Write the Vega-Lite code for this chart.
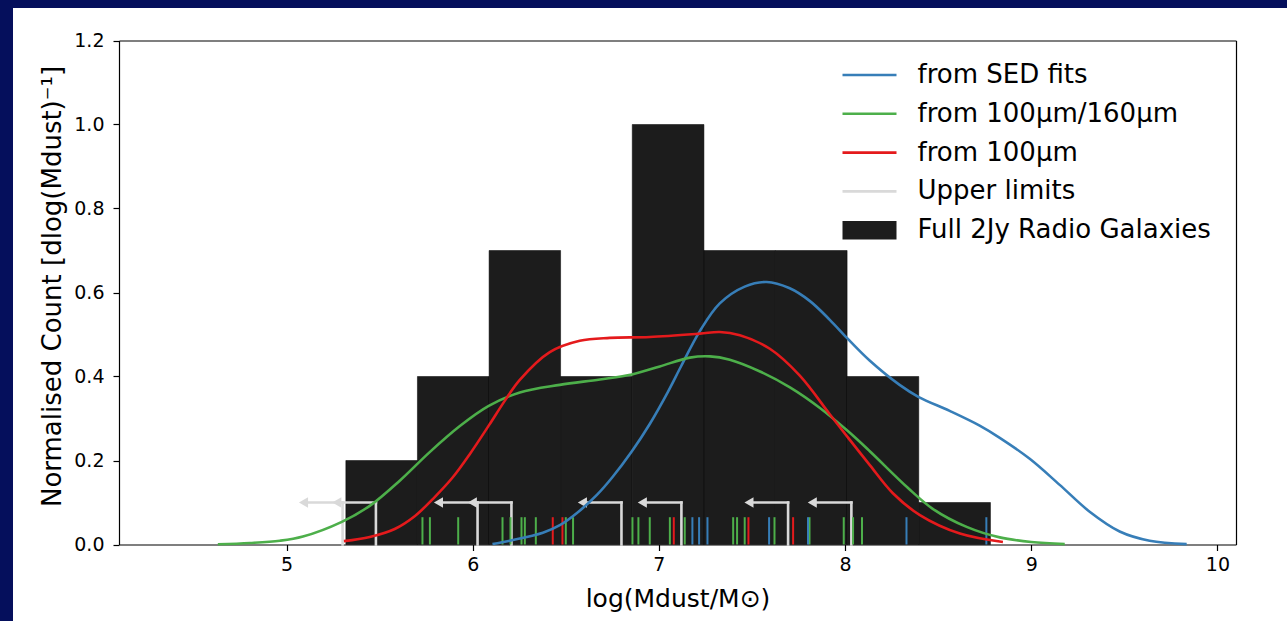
{
  "$schema": "https://vega.github.io/schema/vega-lite/v6.json",
  "width": 1274,
  "height": 613,
  "autosize": {"type": "none"},
  "padding": {"left": 13, "top": 8, "right": 0, "bottom": 0},
  "background": "#050f5c",
  "datasets": {
    "hist": [
      {"b0": 5.3185, "b1": 5.703, "h": 0.2, "s": "Full 2Jy Radio Galaxies"},
      {"b0": 5.703, "b1": 6.088, "h": 0.4, "s": "Full 2Jy Radio Galaxies"},
      {"b0": 6.088, "b1": 6.472, "h": 0.7, "s": "Full 2Jy Radio Galaxies"},
      {"b0": 6.472, "b1": 6.857, "h": 0.4, "s": "Full 2Jy Radio Galaxies"},
      {"b0": 6.857, "b1": 7.242, "h": 1.0, "s": "Full 2Jy Radio Galaxies"},
      {"b0": 7.242, "b1": 7.626, "h": 0.7, "s": "Full 2Jy Radio Galaxies"},
      {"b0": 7.626, "b1": 8.011, "h": 0.7, "s": "Full 2Jy Radio Galaxies"},
      {"b0": 8.011, "b1": 8.396, "h": 0.4, "s": "Full 2Jy Radio Galaxies"},
      {"b0": 8.396, "b1": 8.781, "h": 0.1, "s": "Full 2Jy Radio Galaxies"}
    ],
    "ul": [
      {"x": 5.301, "xa": 5.091, "s": "Upper limits"},
      {"x": 5.480, "xa": 5.270, "s": "Upper limits"},
      {"x": 6.026, "xa": 5.816, "s": "Upper limits"},
      {"x": 6.208, "xa": 5.998, "s": "Upper limits"},
      {"x": 6.799, "xa": 6.589, "s": "Upper limits"},
      {"x": 7.121, "xa": 6.911, "s": "Upper limits"},
      {"x": 7.694, "xa": 7.484, "s": "Upper limits"},
      {"x": 8.034, "xa": 7.824, "s": "Upper limits"}
    ],
    "rug": [
      {"x": 5.730, "s": "from 100μm/160μm"},
      {"x": 5.770, "s": "from 100μm/160μm"},
      {"x": 5.922, "s": "from 100μm/160μm"},
      {"x": 6.160, "s": "from 100μm/160μm"},
      {"x": 6.203, "s": "from 100μm/160μm"},
      {"x": 6.262, "s": "from 100μm/160μm"},
      {"x": 6.280, "s": "from 100μm/160μm"},
      {"x": 6.339, "s": "from 100μm/160μm"},
      {"x": 6.500, "s": "from 100μm/160μm"},
      {"x": 6.539, "s": "from 100μm/160μm"},
      {"x": 6.858, "s": "from 100μm/160μm"},
      {"x": 6.890, "s": "from 100μm/160μm"},
      {"x": 6.951, "s": "from 100μm/160μm"},
      {"x": 7.059, "s": "from 100μm/160μm"},
      {"x": 7.139, "s": "from 100μm/160μm"},
      {"x": 7.399, "s": "from 100μm/160μm"},
      {"x": 7.420, "s": "from 100μm/160μm"},
      {"x": 7.461, "s": "from 100μm/160μm"},
      {"x": 7.621, "s": "from 100μm/160μm"},
      {"x": 7.809, "s": "from 100μm/160μm"},
      {"x": 7.993, "s": "from 100μm/160μm"},
      {"x": 8.043, "s": "from 100μm/160μm"},
      {"x": 8.091, "s": "from 100μm/160μm"},
      {"x": 6.430, "s": "from 100μm"},
      {"x": 6.482, "s": "from 100μm"},
      {"x": 7.080, "s": "from 100μm"},
      {"x": 7.481, "s": "from 100μm"},
      {"x": 7.721, "s": "from 100μm"},
      {"x": 7.180, "s": "from SED fits"},
      {"x": 7.216, "s": "from SED fits"},
      {"x": 7.261, "s": "from SED fits"},
      {"x": 7.592, "s": "from SED fits"},
      {"x": 7.801, "s": "from SED fits"},
      {"x": 8.330, "s": "from SED fits"},
      {"x": 8.759, "s": "from SED fits"}
    ],
    "kde": [
      {"s": "from SED fits", "v": 6.106, "y": 0.001},
      {"s": "from SED fits", "v": 6.199, "y": 0.009},
      {"s": "from SED fits", "v": 6.377, "y": 0.028},
      {"s": "from SED fits", "v": 6.468, "y": 0.046},
      {"s": "from SED fits", "v": 6.560, "y": 0.075},
      {"s": "from SED fits", "v": 6.667, "y": 0.118},
      {"s": "from SED fits", "v": 6.750, "y": 0.160},
      {"s": "from SED fits", "v": 6.855, "y": 0.222},
      {"s": "from SED fits", "v": 6.951, "y": 0.287},
      {"s": "from SED fits", "v": 7.048, "y": 0.363},
      {"s": "from SED fits", "v": 7.120, "y": 0.425},
      {"s": "from SED fits", "v": 7.220, "y": 0.508},
      {"s": "from SED fits", "v": 7.327, "y": 0.574},
      {"s": "from SED fits", "v": 7.461, "y": 0.614},
      {"s": "from SED fits", "v": 7.579, "y": 0.625},
      {"s": "from SED fits", "v": 7.703, "y": 0.610},
      {"s": "from SED fits", "v": 7.810, "y": 0.580},
      {"s": "from SED fits", "v": 7.918, "y": 0.535},
      {"s": "from SED fits", "v": 8.014, "y": 0.490},
      {"s": "from SED fits", "v": 8.132, "y": 0.438},
      {"s": "from SED fits", "v": 8.293, "y": 0.380},
      {"s": "from SED fits", "v": 8.396, "y": 0.351},
      {"s": "from SED fits", "v": 8.562, "y": 0.318},
      {"s": "from SED fits", "v": 8.723, "y": 0.283},
      {"s": "from SED fits", "v": 8.831, "y": 0.254},
      {"s": "from SED fits", "v": 8.992, "y": 0.204},
      {"s": "from SED fits", "v": 9.153, "y": 0.142},
      {"s": "from SED fits", "v": 9.314, "y": 0.078},
      {"s": "from SED fits", "v": 9.475, "y": 0.031},
      {"s": "from SED fits", "v": 9.636, "y": 0.009},
      {"s": "from SED fits", "v": 9.835, "y": 0.001},
      {"s": "from 100μm/160μm", "v": 4.631, "y": 0.0005},
      {"s": "from 100μm/160μm", "v": 4.803, "y": 0.0036},
      {"s": "from 100μm/160μm", "v": 4.964, "y": 0.0090},
      {"s": "from 100μm/160μm", "v": 5.088, "y": 0.019},
      {"s": "from 100μm/160μm", "v": 5.297, "y": 0.054},
      {"s": "from 100μm/160μm", "v": 5.447, "y": 0.092},
      {"s": "from 100μm/160μm", "v": 5.608, "y": 0.152},
      {"s": "from 100μm/160μm", "v": 5.769, "y": 0.220},
      {"s": "from 100μm/160μm", "v": 5.931, "y": 0.282},
      {"s": "from 100μm/160μm", "v": 6.086, "y": 0.330},
      {"s": "from 100μm/160μm", "v": 6.253, "y": 0.362},
      {"s": "from 100μm/160μm", "v": 6.468, "y": 0.380},
      {"s": "from 100μm/160μm", "v": 6.683, "y": 0.393},
      {"s": "from 100μm/160μm", "v": 6.855, "y": 0.405},
      {"s": "from 100μm/160μm", "v": 7.005, "y": 0.424},
      {"s": "from 100μm/160μm", "v": 7.166, "y": 0.445},
      {"s": "from 100μm/160μm", "v": 7.274, "y": 0.448},
      {"s": "from 100μm/160μm", "v": 7.381, "y": 0.440},
      {"s": "from 100μm/160μm", "v": 7.543, "y": 0.412},
      {"s": "from 100μm/160μm", "v": 7.704, "y": 0.374},
      {"s": "from 100μm/160μm", "v": 7.865, "y": 0.325},
      {"s": "from 100μm/160μm", "v": 8.015, "y": 0.270},
      {"s": "from 100μm/160μm", "v": 8.133, "y": 0.222},
      {"s": "from 100μm/160μm", "v": 8.337, "y": 0.135},
      {"s": "from 100μm/160μm", "v": 8.471, "y": 0.085},
      {"s": "from 100μm/160μm", "v": 8.653, "y": 0.042},
      {"s": "from 100μm/160μm", "v": 8.831, "y": 0.017},
      {"s": "from 100μm/160μm", "v": 9.000, "y": 0.006},
      {"s": "from 100μm/160μm", "v": 9.180, "y": 0.001},
      {"s": "from 100μm", "v": 5.308, "y": 0.008},
      {"s": "from 100μm", "v": 5.447, "y": 0.018},
      {"s": "from 100μm", "v": 5.581, "y": 0.037},
      {"s": "from 100μm", "v": 5.690, "y": 0.068},
      {"s": "from 100μm", "v": 5.796, "y": 0.113},
      {"s": "from 100μm", "v": 5.893, "y": 0.160},
      {"s": "from 100μm", "v": 5.984, "y": 0.215},
      {"s": "from 100μm", "v": 6.086, "y": 0.283},
      {"s": "from 100μm", "v": 6.172, "y": 0.342},
      {"s": "from 100μm", "v": 6.253, "y": 0.392},
      {"s": "from 100μm", "v": 6.414, "y": 0.458},
      {"s": "from 100μm", "v": 6.575, "y": 0.485},
      {"s": "from 100μm", "v": 6.736, "y": 0.492},
      {"s": "from 100μm", "v": 6.951, "y": 0.494},
      {"s": "from 100μm", "v": 7.220, "y": 0.502},
      {"s": "from 100μm", "v": 7.327, "y": 0.506},
      {"s": "from 100μm", "v": 7.435, "y": 0.498},
      {"s": "from 100μm", "v": 7.596, "y": 0.466},
      {"s": "from 100μm", "v": 7.757, "y": 0.402},
      {"s": "from 100μm", "v": 7.918, "y": 0.310},
      {"s": "from 100μm", "v": 8.015, "y": 0.255},
      {"s": "from 100μm", "v": 8.133, "y": 0.189},
      {"s": "from 100μm", "v": 8.257, "y": 0.122},
      {"s": "from 100μm", "v": 8.402, "y": 0.070},
      {"s": "from 100μm", "v": 8.617, "y": 0.026},
      {"s": "from 100μm", "v": 8.848, "y": 0.006}
    ]
  },
  "resolve": {"axis": {"x": "independent", "y": "independent"}},
  "layer": [
    {
      "data": {"name": "hist"},
      "mark": {"type": "rect", "stroke": "#000000", "strokeWidth": 0.5},
      "encoding": {
        "x": {"field": "b0", "type": "quantitative",
          "scale": {"domain": [4.1, 10.1], "range": [106, 1223], "nice": false, "zero": false},
          "axis": {"orient": "bottom", "offset": -76.5, "values": [5, 6, 7, 8, 9, 10], "format": "d",
            "tickSize": 6, "tickWidth": 1.2, "tickColor": "black", "domainColor": "black", "domainWidth": 1.2,
            "labelFontSize": 19, "labelColor": "black", "labelPadding": 5, "labelFont": "DejaVu Sans",
            "title": "log(Mdust/M⊙)", "titleFontSize": 25, "titleFontWeight": "normal", "titleColor": "black",
            "titleFont": "DejaVu Sans", "titlePadding": 12, "grid": false, "labelFlush": false, "labelOverlap": false}},
        "x2": {"field": "b1"},
        "y": {"field": "h", "type": "quantitative",
          "scale": {"domain": [0, 1.2], "range": [536.5, 32.5], "nice": false, "zero": false},
          "axis": {"orient": "left", "offset": -106, "values": [0, 0.2, 0.4, 0.6, 0.8, 1.0, 1.2], "format": ".1f",
            "tickSize": 6, "tickWidth": 1.2, "tickColor": "black", "domainColor": "black", "domainWidth": 1.2,
            "labelFontSize": 19, "labelColor": "black", "labelPadding": 9, "labelFont": "DejaVu Sans",
            "title": "Normalised Count [dlog(Mdust)⁻¹]", "titleFontSize": 26, "titleFontWeight": "normal", "titleColor": "black",
            "titleFont": "DejaVu Sans", "titlePadding": 8, "titleY": 278, "grid": false, "labelFlush": false, "labelOverlap": false}},
        "y2": {"datum": 0},
        "color": {"field": "s", "type": "nominal",
          "scale": {"domain": ["from SED fits", "from 100μm/160μm", "from 100μm", "Upper limits", "Full 2Jy Radio Galaxies"],
                    "range": ["#377eb8", "#4daf4a", "#e41a1c", "#d9d9d9", "#1c1c1c"]},
          "legend": {"title": null, "orient": "none", "legendX": 843.5, "legendY": 54, "labelFontSize": 26, "labelFont": "DejaVu Sans",
            "labelColor": "black", "symbolSize": 729, "symbolStrokeWidth": 2.6, "rowPadding": 12.8,
            "labelOffset": 35, "padding": 0, "labelLimit": 600,
            "encode": {"symbols": {"update": {
              "shape": {"signal": "datum.label === 'Full 2Jy Radio Galaxies' ? 'M-2,-0.68H2V0.68H-2Z' : 'M-2,0H2'"},
              "fill": {"signal": "datum.label === 'Full 2Jy Radio Galaxies' ? '#1c1c1c' : 'transparent'"},
              "stroke": {"signal": "scale('color', datum.value)"},
              "strokeWidth": {"signal": "datum.label === 'Full 2Jy Radio Galaxies' ? 0 : 2.6"},
              "opacity": {"value": 1}}}}}}
      }
    },
    {
      "data": {"name": "ul"},
      "mark": {"type": "rule", "strokeWidth": 2.6, "strokeCap": "square"},
      "encoding": {
        "x": {"field": "x", "type": "quantitative", "axis": null},
        "y": {"datum": 0, "axis": null},
        "y2": {"datum": 0.1},
        "color": {"field": "s", "type": "nominal",
          "scale": {"domain": ["from SED fits", "from 100μm/160μm", "from 100μm", "Upper limits", "Full 2Jy Radio Galaxies"],
                    "range": ["#377eb8", "#4daf4a", "#e41a1c", "#d9d9d9", "#1c1c1c"]},
          "legend": {"title": null, "orient": "none", "legendX": 843.5, "legendY": 54, "labelFontSize": 26, "labelFont": "DejaVu Sans",
            "labelColor": "black", "symbolSize": 729, "symbolStrokeWidth": 2.6, "rowPadding": 12.8,
            "labelOffset": 35, "padding": 0, "labelLimit": 600,
            "encode": {"symbols": {"update": {
              "shape": {"signal": "datum.label === 'Full 2Jy Radio Galaxies' ? 'M-2,-0.68H2V0.68H-2Z' : 'M-2,0H2'"},
              "fill": {"signal": "datum.label === 'Full 2Jy Radio Galaxies' ? '#1c1c1c' : 'transparent'"},
              "stroke": {"signal": "scale('color', datum.value)"},
              "strokeWidth": {"signal": "datum.label === 'Full 2Jy Radio Galaxies' ? 0 : 2.6"},
              "opacity": {"value": 1}}}}}}
      }
    },
    {
      "data": {"name": "ul"},
      "mark": {"type": "rule", "strokeWidth": 2.6, "strokeCap": "square"},
      "encoding": {
        "x": {"field": "x", "type": "quantitative", "axis": null},
        "x2": {"field": "xa"},
        "y": {"datum": 0.1, "axis": null},
        "color": {"field": "s", "type": "nominal",
          "scale": {"domain": ["from SED fits", "from 100μm/160μm", "from 100μm", "Upper limits", "Full 2Jy Radio Galaxies"],
                    "range": ["#377eb8", "#4daf4a", "#e41a1c", "#d9d9d9", "#1c1c1c"]},
          "legend": {"title": null, "orient": "none", "legendX": 843.5, "legendY": 54, "labelFontSize": 26, "labelFont": "DejaVu Sans",
            "labelColor": "black", "symbolSize": 729, "symbolStrokeWidth": 2.6, "rowPadding": 12.8,
            "labelOffset": 35, "padding": 0, "labelLimit": 600,
            "encode": {"symbols": {"update": {
              "shape": {"signal": "datum.label === 'Full 2Jy Radio Galaxies' ? 'M-2,-0.68H2V0.68H-2Z' : 'M-2,0H2'"},
              "fill": {"signal": "datum.label === 'Full 2Jy Radio Galaxies' ? '#1c1c1c' : 'transparent'"},
              "stroke": {"signal": "scale('color', datum.value)"},
              "strokeWidth": {"signal": "datum.label === 'Full 2Jy Radio Galaxies' ? 0 : 2.6"},
              "opacity": {"value": 1}}}}}}
      }
    },
    {
      "data": {"name": "ul"},
      "mark": {"type": "point", "shape": "triangle-left", "filled": true, "size": 110, "opacity": 1},
      "encoding": {
        "x": {"field": "xa", "type": "quantitative", "axis": null},
        "y": {"datum": 0.1, "axis": null},
        "color": {"field": "s", "type": "nominal",
          "scale": {"domain": ["from SED fits", "from 100μm/160μm", "from 100μm", "Upper limits", "Full 2Jy Radio Galaxies"],
                    "range": ["#377eb8", "#4daf4a", "#e41a1c", "#d9d9d9", "#1c1c1c"]},
          "legend": {"title": null, "orient": "none", "legendX": 843.5, "legendY": 54, "labelFontSize": 26, "labelFont": "DejaVu Sans",
            "labelColor": "black", "symbolSize": 729, "symbolStrokeWidth": 2.6, "rowPadding": 12.8,
            "labelOffset": 35, "padding": 0, "labelLimit": 600,
            "encode": {"symbols": {"update": {
              "shape": {"signal": "datum.label === 'Full 2Jy Radio Galaxies' ? 'M-2,-0.68H2V0.68H-2Z' : 'M-2,0H2'"},
              "fill": {"signal": "datum.label === 'Full 2Jy Radio Galaxies' ? '#1c1c1c' : 'transparent'"},
              "stroke": {"signal": "scale('color', datum.value)"},
              "strokeWidth": {"signal": "datum.label === 'Full 2Jy Radio Galaxies' ? 0 : 2.6"},
              "opacity": {"value": 1}}}}}}
      }
    },
    {
      "data": {"name": "rug"},
      "mark": {"type": "rule", "strokeWidth": 2},
      "encoding": {
        "x": {"field": "x", "type": "quantitative", "axis": null},
        "y": {"datum": 0, "axis": null},
        "y2": {"datum": 0.065},
        "color": {"field": "s", "type": "nominal",
          "scale": {"domain": ["from SED fits", "from 100μm/160μm", "from 100μm", "Upper limits", "Full 2Jy Radio Galaxies"],
                    "range": ["#377eb8", "#4daf4a", "#e41a1c", "#d9d9d9", "#1c1c1c"]},
          "legend": {"title": null, "orient": "none", "legendX": 843.5, "legendY": 54, "labelFontSize": 26, "labelFont": "DejaVu Sans",
            "labelColor": "black", "symbolSize": 729, "symbolStrokeWidth": 2.6, "rowPadding": 12.8,
            "labelOffset": 35, "padding": 0, "labelLimit": 600,
            "encode": {"symbols": {"update": {
              "shape": {"signal": "datum.label === 'Full 2Jy Radio Galaxies' ? 'M-2,-0.68H2V0.68H-2Z' : 'M-2,0H2'"},
              "fill": {"signal": "datum.label === 'Full 2Jy Radio Galaxies' ? '#1c1c1c' : 'transparent'"},
              "stroke": {"signal": "scale('color', datum.value)"},
              "strokeWidth": {"signal": "datum.label === 'Full 2Jy Radio Galaxies' ? 0 : 2.6"},
              "opacity": {"value": 1}}}}}}
      }
    },
    {
      "data": {"name": "kde"},
      "mark": {"type": "line", "strokeWidth": 2.6, "interpolate": "catmull-rom"},
      "encoding": {
        "x": {"field": "v", "type": "quantitative",
          "axis": {"orient": "top", "offset": -32.5, "ticks": false, "labels": false, "title": null, "grid": false,
                   "domainColor": "black", "domainWidth": 1.2}},
        "y": {"field": "y", "type": "quantitative",
          "axis": {"orient": "right", "offset": -51, "ticks": false, "labels": false, "title": null, "grid": false,
                   "domainColor": "black", "domainWidth": 1.2}},
        "color": {"field": "s", "type": "nominal",
          "scale": {"domain": ["from SED fits", "from 100μm/160μm", "from 100μm", "Upper limits", "Full 2Jy Radio Galaxies"],
                    "range": ["#377eb8", "#4daf4a", "#e41a1c", "#d9d9d9", "#1c1c1c"]},
          "legend": {"title": null, "orient": "none", "legendX": 843.5, "legendY": 54, "labelFontSize": 26, "labelFont": "DejaVu Sans",
            "labelColor": "black", "symbolSize": 729, "symbolStrokeWidth": 2.6, "rowPadding": 12.8,
            "labelOffset": 35, "padding": 0, "labelLimit": 600,
            "encode": {"symbols": {"update": {
              "shape": {"signal": "datum.label === 'Full 2Jy Radio Galaxies' ? 'M-2,-0.68H2V0.68H-2Z' : 'M-2,0H2'"},
              "fill": {"signal": "datum.label === 'Full 2Jy Radio Galaxies' ? '#1c1c1c' : 'transparent'"},
              "stroke": {"signal": "scale('color', datum.value)"},
              "strokeWidth": {"signal": "datum.label === 'Full 2Jy Radio Galaxies' ? 0 : 2.6"},
              "opacity": {"value": 1}}}}}}
      }
    }
  ],
  "config": {
    "view": {"stroke": null, "fill": "white"},
    "font": "DejaVu Sans"
  }
}
